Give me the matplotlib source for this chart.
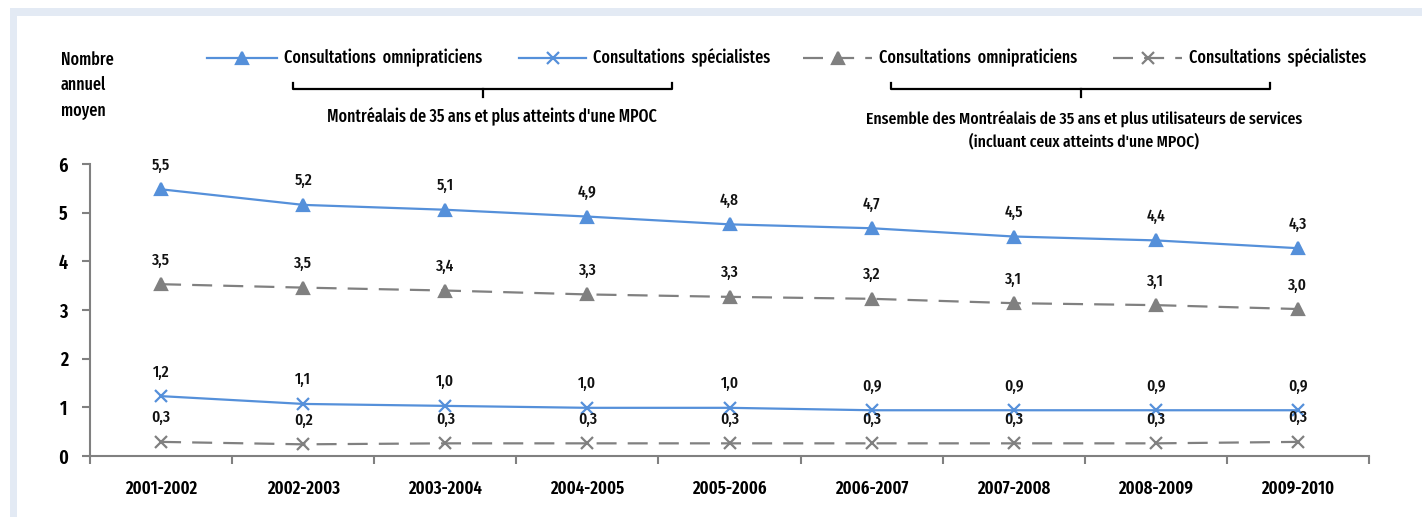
import numpy as np
import matplotlib.pyplot as plt
from matplotlib.patches import Rectangle
from matplotlib.lines import Line2D

plt.rcParams['font.family'] = ['Fira Sans Extra Condensed', 'DejaVu Sans']

years = ['2001-2002', '2002-2003', '2003-2004', '2004-2005', '2005-2006',
         '2006-2007', '2007-2008', '2008-2009', '2009-2010']
mpoc_omni = [5.48, 5.16, 5.06, 4.92, 4.76, 4.68, 4.51, 4.43, 4.27]
mpoc_spec = [1.23, 1.07, 1.03, 0.99, 0.99, 0.94, 0.94, 0.94, 0.94]
all_omni = [3.53, 3.46, 3.40, 3.32, 3.27, 3.23, 3.14, 3.10, 3.02]
all_spec = [0.29, 0.24, 0.26, 0.26, 0.26, 0.26, 0.26, 0.26, 0.29]

BLUE = '#5590DA'
GRAY = '#808080'
DASH = (0, (9, 5))
W, H = 1422, 517

fig = plt.figure(figsize=(W / 100, H / 100), dpi=100)
fig.patch.set_facecolor('white')
fig.patches.append(Rectangle((10 / W, 0), 1, 1 - 8 / H, transform=fig.transFigure,
                             facecolor='#E3EAF4', edgecolor='none', zorder=-2))
fig.patches.append(Rectangle((17 / W, 0), 1, 1 - 16 / H, transform=fig.transFigure,
                             facecolor='white', edgecolor='none', zorder=-1))

ax = fig.add_axes([90 / W, (H - 456) / H, (1369 - 90) / W, (456 - 164) / H])
ax.set_facecolor('none')
x = np.arange(len(years))

series = [
    (mpoc_omni, BLUE, '-', '^'),
    (all_omni, GRAY, DASH, '^'),
    (mpoc_spec, BLUE, '-', 'x'),
    (all_spec, GRAY, DASH, 'x'),
]
for vals, c, ls, m in series:
    ax.plot(x, vals, color=c, linestyle=ls, linewidth=1.6, marker=m, markersize=9,
            markeredgewidth=1.6, markerfacecolor=c, markeredgecolor=c, clip_on=False)
    for xi, v in zip(x, vals):
        ax.annotate(f'{v:.1f}'.replace('.', ','), (xi, v), xytext=(0, 14),
                    textcoords='offset points', ha='center', va='baseline',
                    fontsize=12, fontweight=500, color='#111111')

ax.set_xlim(-0.5, len(years) - 0.5)
ax.set_ylim(0, 6)
for s in ['top', 'right']:
    ax.spines[s].set_visible(False)
for s in ['left', 'bottom']:
    ax.spines[s].set_color(GRAY)
    ax.spines[s].set_linewidth(1.5)
ax.set_yticks(range(7))
ax.set_yticklabels([str(i) for i in range(7)], fontsize=14, fontweight=600)
ax.tick_params(axis='y', length=6, width=1.5, color=GRAY, pad=10)
ax.set_xticks(np.arange(-0.5, len(years), 1.0), minor=False)
ax.set_xticklabels([])
ax.set_xticks(x, minor=True)
ax.set_xticklabels(years, minor=True, fontsize=13, fontweight=600)
ax.tick_params(axis='x', which='major', length=6, width=1.5, color=GRAY)
ax.tick_params(axis='x', which='minor', length=0, pad=17)

# y-axis title
fig.text(61 / W, 1 - 85 / H, 'Nombre\nannuel\nmoyen', ha='left', va='center',
         fontsize=12.5, fontweight=500, linespacing=1.55)

# legend
def legend_item(x0, x1, color, ls, marker, label):
    y = 1 - 58 / H
    fig.lines.append(Line2D([x0 / W, x1 / W], [y, y], transform=fig.transFigure,
                            color=color, linestyle=ls, linewidth=1.6))
    fig.lines.append(Line2D([(x0 + x1) / 2 / W], [y], transform=fig.transFigure,
                            color=color, marker=marker, markersize=9,
                            markeredgewidth=1.6, linestyle='none'))
    fig.text((x1 + 7) / W, y, label, ha='left', va='center', fontsize=12.5,
             fontweight=500)

legend_item(207, 277, BLUE, '-', '^', 'Consultations  omnipraticiens')
legend_item(519, 586, BLUE, '-', 'x', 'Consultations  spécialistes')
legend_item(803, 872, GRAY, DASH, '^', 'Consultations  omnipraticiens')
legend_item(1113, 1182, GRAY, DASH, 'x', 'Consultations  spécialistes')

# brackets
def bracket(x0, x1):
    xm = (x0 + x1) / 2
    yb = 1 - 89 / H
    yt = 1 - 83 / H
    ym = 1 - 97 / H
    fig.lines.append(Line2D([x0 / W, x0 / W, x1 / W, x1 / W],
                            [yt, yb, yb, yt], transform=fig.transFigure,
                            color='black', linewidth=1.6))
    fig.lines.append(Line2D([xm / W, xm / W], [yb, ym], transform=fig.transFigure,
                            color='black', linewidth=1.6))

bracket(293, 672)
bracket(891, 1270)
fig.text(492 / W, 1 - 117 / H, "Montréalais de 35 ans et plus atteints d'une MPOC",
         ha='center', va='center', fontsize=12.5, fontweight=500)
fig.text(1084 / W, 1 - 130 / H,
         "Ensemble des Montréalais de 35 ans et plus utilisateurs de services\n(incluant ceux atteints d'une MPOC)",
         ha='center', va='center', fontsize=12.3, fontweight=500, linespacing=1.5)

fig.savefig('out.png', dpi=100)
